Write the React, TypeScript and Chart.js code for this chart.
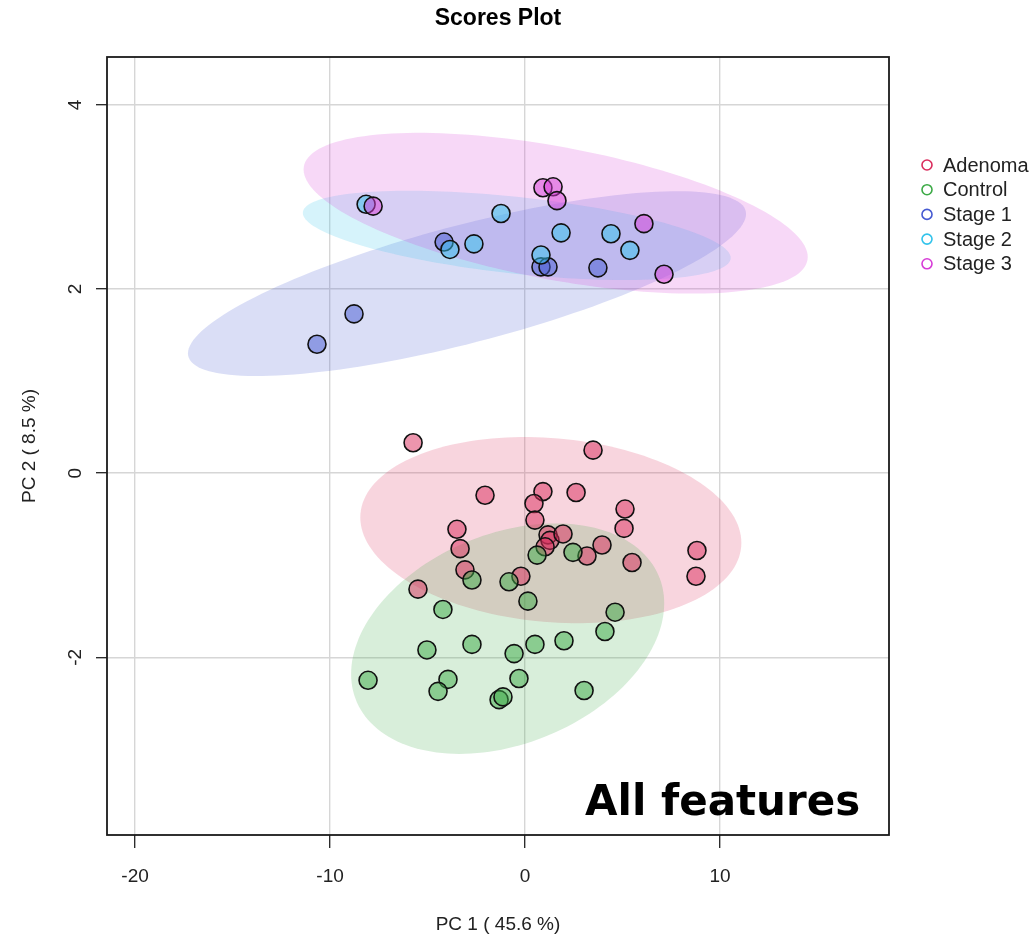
import React, { useEffect, useRef } from 'react';
import { Chart, registerables } from 'chart.js';

Chart.register(...registerables);

// ---------- data (PC1, PC2 scores) ----------
const groupNames = ['Adenoma', 'Control', 'Stage 1', 'Stage 2', 'Stage 3'];

const adenomaPC1 = [-5.74, 3.49, -2.05, 0.92, 2.62, 0.46, 5.13, 0.51, 5.08, -3.49, 1.18, 1.28, 1.03, 1.95, -3.33, 3.95, 3.18, 5.49, 8.82, 8.77, -3.08, -0.21, -5.49];
const adenomaPC2 = [0.33, 0.25, -0.24, -0.20, -0.21, -0.33, -0.39, -0.51, -0.60, -0.61, -0.67, -0.73, -0.80, -0.66, -0.82, -0.78, -0.90, -0.97, -0.84, -1.12, -1.05, -1.12, -1.26];

const controlPC1 = [0.62, 2.46, -2.72, -0.82, 0.15, -4.21, 4.62, 4.10, -2.72, 0.51, 2.00, -5.03, -0.56, -0.31, -8.05, -3.95, -4.46, 3.03, -1.33, -1.13];
const controlPC2 = [-0.89, -0.86, -1.16, -1.18, -1.39, -1.48, -1.51, -1.72, -1.86, -1.86, -1.82, -1.92, -1.96, -2.23, -2.25, -2.24, -2.37, -2.36, -2.46, -2.43];

const stage1PC1 = [-10.67, -8.77, -4.15, 0.82, 1.18, 3.74];
const stage1PC2 = [1.40, 1.73, 2.51, 2.24, 2.24, 2.23];

const stage2PC1 = [-8.15, -3.85, -2.62, -1.23, 0.82, 1.85, 4.41, 5.38];
const stage2PC2 = [2.92, 2.43, 2.49, 2.82, 2.37, 2.61, 2.60, 2.42];

const stage3PC1 = [-7.79, 0.92, 1.44, 1.64, 6.10, 7.13];
const stage3PC2 = [2.90, 3.10, 3.11, 2.96, 2.71, 2.16];

const xTicks = [-20, -10, 0, 10];
const yTicks = [-2, 0, 2, 4];
const xLimits = [-21.44, 18.67];
const yLimits = [-3.93, 4.52];

const chartTitle = 'Scores Plot';
const xTitle = 'PC 1 ( 45.6 %)';
const yTitle = 'PC 2 ( 8.5 %)';
const cornerLabel = 'All features';
const ellipseLevel = 0.95;

// ---------- styles ----------
const groupColors: number[][] = [
  [218, 44, 92],
  [60, 170, 70],
  [70, 90, 210],
  [50, 195, 235],
  [215, 60, 215],
];
const rgba = (c: number[], a: number) => `rgba(${c[0]},${c[1]},${c[2]},${a})`;

const groupX = [adenomaPC1, controlPC1, stage1PC1, stage2PC1, stage3PC1];
const groupY = [adenomaPC2, controlPC2, stage1PC2, stage2PC2, stage3PC2];

function ellipsePath(xs: number[], ys: number[], level: number, steps = 160) {
  const n = xs.length;
  const mx = xs.reduce((a, b) => a + b, 0) / n;
  const my = ys.reduce((a, b) => a + b, 0) / n;
  let sxx = 0, syy = 0, sxy = 0;
  for (let i = 0; i < n; i++) {
    sxx += (xs[i] - mx) ** 2;
    syy += (ys[i] - my) ** 2;
    sxy += (xs[i] - mx) * (ys[i] - my);
  }
  sxx /= n - 1; syy /= n - 1; sxy /= n - 1;
  const t = Math.sqrt(-2 * Math.log(1 - level));
  const a = Math.sqrt(sxx);
  const b = sxy / a;
  const c = Math.sqrt(Math.max(syy - b * b, 0));
  const pts: { x: number; y: number }[] = [];
  for (let k = 0; k <= steps; k++) {
    const th = (k / steps) * Math.PI * 2;
    pts.push({ x: mx + t * a * Math.cos(th), y: my + t * (b * Math.cos(th) + c * Math.sin(th)) });
  }
  return pts;
}

const FONT = '"Liberation Sans", Arial, Helvetica, sans-serif';

const decorPlugin = {
  id: 'decor',
  beforeDatasetsDraw(chart: any) {
    const { ctx, chartArea: ca, scales } = chart;
    ctx.save();
    ctx.beginPath();
    ctx.rect(ca.left, ca.top, ca.right - ca.left, ca.bottom - ca.top);
    ctx.clip();
    groupX.forEach((xs, gi) => {
      const pts = ellipsePath(xs, groupY[gi], ellipseLevel);
      ctx.beginPath();
      pts.forEach((p, i) => {
        const px = scales.x.getPixelForValue(p.x);
        const py = scales.y.getPixelForValue(p.y);
        if (i === 0) ctx.moveTo(px, py); else ctx.lineTo(px, py);
      });
      ctx.closePath();
      ctx.fillStyle = rgba(groupColors[gi], 0.2);
      ctx.fill();
    });
    ctx.restore();
  },
  afterDraw(chart: any) {
    const { ctx, chartArea: ca, scales } = chart;
    ctx.save();
    // box
    ctx.strokeStyle = '#1a1a1a';
    ctx.lineWidth = 1.8;
    ctx.strokeRect(ca.left, ca.top, ca.right - ca.left, ca.bottom - ca.top);

    // y tick labels (rotated like R)
    ctx.fillStyle = '#222';
    ctx.font = `19px ${FONT}`;
    ctx.textAlign = 'center';
    ctx.textBaseline = 'middle';
    yTicks.forEach((v) => {
      const py = scales.y.getPixelForValue(v);
      ctx.save();
      ctx.translate(ca.left - 31, py);
      ctx.rotate(-Math.PI / 2);
      ctx.fillText(String(v), 0, 0);
      ctx.restore();
    });

    // title
    const cx = (ca.left + ca.right) / 2;
    const cy = (ca.top + ca.bottom) / 2;
    ctx.font = `bold 23px ${FONT}`;
    ctx.fillStyle = '#000';
    ctx.fillText(chartTitle, cx, 19);

    // axis titles
    ctx.font = `19px ${FONT}`;
    ctx.fillStyle = '#222';
    ctx.fillText(xTitle, cx, 925);
    ctx.save();
    ctx.translate(30, cy);
    ctx.rotate(-Math.PI / 2);
    ctx.fillText(yTitle, 0, 0);
    ctx.restore();

    // legend
    ctx.font = `20px ${FONT}`;
    ctx.textAlign = 'left';
    groupNames.forEach((name, i) => {
      const ly = 165 + i * 24.7;
      ctx.beginPath();
      ctx.arc(927, ly, 5, 0, Math.PI * 2);
      ctx.strokeStyle = rgba(groupColors[i], 1);
      ctx.lineWidth = 1.6;
      ctx.stroke();
      ctx.fillStyle = '#222';
      ctx.fillText(name, 943, ly + 1);
    });

    // corner label
    ctx.font = `bold 42px "DejaVu Sans", Verdana, sans-serif`;
    ctx.fillStyle = '#000';
    ctx.textAlign = 'left';
    ctx.textBaseline = 'alphabetic';
    ctx.fillText(cornerLabel, 585, 815);
    ctx.restore();
  },
};

export default function App() {
  const ref = useRef<HTMLCanvasElement | null>(null);
  useEffect(() => {
    document.body.style.margin = '0';
    document.body.style.overflow = 'hidden';
    if (!ref.current) return;
    const datasets = groupNames.map((name, gi) => ({
      label: name,
      data: groupX[gi].map((x, i) => ({ x, y: groupY[gi][i] })),
      backgroundColor: rgba(groupColors[gi], 0.5),
      borderColor: '#111',
      borderWidth: 1.6,
      pointRadius: 9,
      pointHoverRadius: 9,
      order: groupNames.length - gi,
    }));
    const chart = new Chart(ref.current, {
      type: 'scatter',
      data: { datasets },
      options: {
        responsive: false,
        animation: false,
        events: [],
        layout: { padding: { left: 0, right: 147, top: 57, bottom: 0 } },
        plugins: {
          legend: { display: false },
          title: { display: false },
          tooltip: { enabled: false },
        },
        scales: {
          x: {
            type: 'linear',
            min: xLimits[0],
            max: xLimits[1],
            afterFit: (s: any) => { s.height = 102; },
            afterBuildTicks: (s: any) => { s.ticks = xTicks.map((v) => ({ value: v })); },
            border: { display: false },
            grid: { color: '#d6d6d6', lineWidth: 1.4, tickColor: '#222', tickWidth: 1.3, tickLength: 13 },
            ticks: { color: '#222', font: { family: FONT, size: 19 }, padding: 17, maxRotation: 0, minRotation: 0 },
          },
          y: {
            type: 'linear',
            min: yLimits[0],
            max: yLimits[1],
            afterFit: (s: any) => { s.width = 107; },
            afterBuildTicks: (s: any) => { s.ticks = yTicks.map((v) => ({ value: v })); },
            border: { display: false },
            grid: { color: '#d6d6d6', lineWidth: 1.4, tickColor: '#222', tickWidth: 1.3, tickLength: 11 },
            ticks: { display: false },
          },
        },
      },
      plugins: [decorPlugin],
    } as any);
    return () => chart.destroy();
  }, []);
  return (
    <div style={{ position: 'absolute', left: 0, top: 0, width: 1036, height: 937, background: '#fff' }}>
      <canvas ref={ref} width={1036} height={937} style={{ display: 'block' }} />
    </div>
  );
}
